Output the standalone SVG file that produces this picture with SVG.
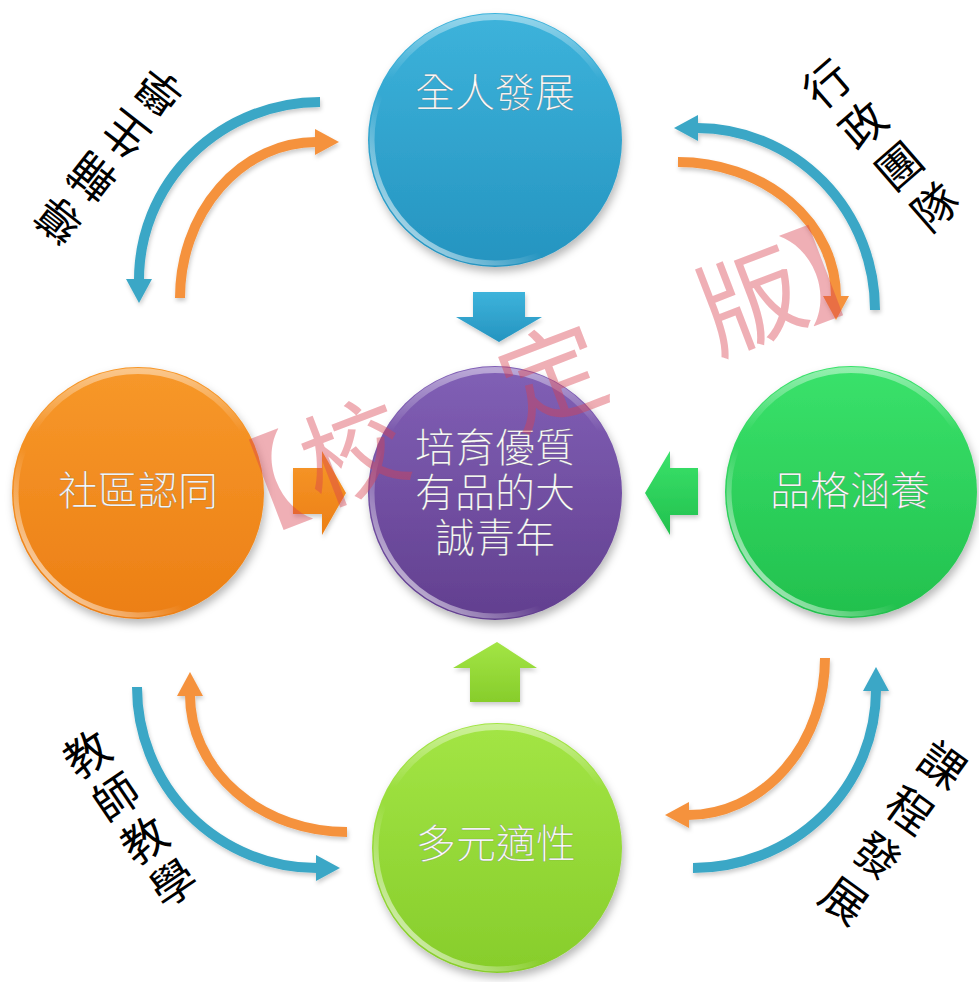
<svg xmlns="http://www.w3.org/2000/svg" width="979" height="982" viewBox="0 0 979 982">
<style>
.ctext{font-family:"Noto Sans CJK TC","Noto Sans CJK SC",sans-serif;font-size:40px;font-weight:300;fill:#ffffff;stroke:#4a4a4a;stroke-opacity:.35;stroke-width:.7px;text-anchor:middle}
.lbl{font-family:"Noto Sans CJK TC","Noto Sans CJK SC",sans-serif;font-size:45px;font-weight:400;fill:#000000}
.wm{font-family:"Noto Sans CJK TC","Noto Sans CJK SC",sans-serif;font-size:104px;fill:#d9404f;fill-opacity:.42;text-anchor:middle}
.arcB{fill:none;stroke:#3aa7c6;stroke-width:10;marker-end:url(#hB)}
.arcO{fill:none;stroke:#f5923e;stroke-width:10;marker-end:url(#hO)}
.rim{fill:none;stroke:url(#rim);stroke-width:5}
.gloss{fill:none;stroke:url(#gloss);stroke-width:6}
</style>
<defs>
<filter id="sh" x="-20%" y="-20%" width="140%" height="140%">
<feDropShadow dx="2" dy="5" stdDeviation="4" flood-color="#000" flood-opacity=".28"/>
</filter>
<filter id="sh2" x="-20%" y="-20%" width="140%" height="140%">
<feDropShadow dx="1" dy="3" stdDeviation="2" flood-color="#000" flood-opacity=".2"/>
</filter>
<linearGradient id="gBlue" x1="0" y1="0" x2="0" y2="1"><stop offset="0" stop-color="#3db3db"/><stop offset="1" stop-color="#2594c0"/></linearGradient>
<linearGradient id="gOrange" x1="0" y1="0" x2="0" y2="1"><stop offset="0" stop-color="#f7982a"/><stop offset="1" stop-color="#ec7f15"/></linearGradient>
<linearGradient id="gGreen" x1="0" y1="0" x2="0" y2="1"><stop offset="0" stop-color="#3ae26b"/><stop offset="1" stop-color="#22c04d"/></linearGradient>
<linearGradient id="gLime" x1="0" y1="0" x2="0" y2="1"><stop offset="0" stop-color="#a3e545"/><stop offset="1" stop-color="#87cd2b"/></linearGradient>
<linearGradient id="gPurple" x1="0" y1="0" x2="0" y2="1"><stop offset="0" stop-color="#8160b6"/><stop offset="1" stop-color="#623f8f"/></linearGradient>
<linearGradient id="rim" x1="0" y1="1" x2="0.8" y2="0.2"><stop offset="0" stop-color="#fff" stop-opacity=".9"/><stop offset=".45" stop-color="#fff" stop-opacity="0"/></linearGradient>
<linearGradient id="gloss" x1="0" y1="0" x2="0" y2="1"><stop offset="0" stop-color="#fff" stop-opacity=".45"/><stop offset=".25" stop-color="#fff" stop-opacity="0"/></linearGradient>
<marker id="hB" markerUnits="userSpaceOnUse" markerWidth="30" markerHeight="30" refX="1" refY="0" orient="auto" viewBox="0 -15 30 30" overflow="visible"><path d="M0,-13 L24,0 L0,13 z" fill="#3aa7c6"/></marker>
<marker id="hO" markerUnits="userSpaceOnUse" markerWidth="30" markerHeight="30" refX="1" refY="0" orient="auto" viewBox="0 -15 30 30" overflow="visible"><path d="M0,-13 L24,0 L0,13 z" fill="#f5923e"/></marker>
</defs>
<rect width="979" height="982" fill="#ffffff"/>

<g id="connectors">
<g id="curved-arrows" filter="url(#sh2)">
<path class="arcB" d="M320,102 A181,178 0 0 0 139,280"/>
<path class="arcO" d="M180,298 A136,156 0 0 1 316,142"/>
<path class="arcB" d="M875,310 A178,182 0 0 0 697,128"/>
<path class="arcO" d="M678,162 A158,135 0 0 1 836,297"/>
<path class="arcB" d="M137,687 A180,181 0 0 0 317,868"/>
<path class="arcO" d="M347,832 A157,137 0 0 1 190,695"/>
<path class="arcO" d="M825,658 A137,157 0 0 1 688,815"/>
<path class="arcB" d="M693,868 A183,178 0 0 0 876,690"/>
</g>
<g id="block-arrows" filter="url(#sh2)">
<polygon points="473,292 525,292 525,317 542,317 499,342 456,317 473,317" fill="url(#gBlue)"/>
<polygon points="293,468 322,468 322,451 346,493 322,535 322,514 293,514" fill="url(#gOrange)"/>
<polygon points="698,468 670,468 670,451 645,493 670,535 670,515 698,515" fill="url(#gGreen)"/>
<polygon points="470,702 520,702 520,668 537,668 497,642 453,668 470,668" fill="url(#gLime)"/>
</g>
</g>

<g id="node-top">
<circle cx="495" cy="140" r="127" fill="url(#gBlue)" filter="url(#sh)"/>
<circle class="rim" cx="495" cy="140" r="123"/>
<circle class="gloss" cx="495" cy="140" r="123"/>
<text class="ctext" x="495" y="107">全人發展</text>
</g>
<g id="node-left">
<circle cx="138" cy="493" r="126" fill="url(#gOrange)" filter="url(#sh)"/>
<circle class="rim" cx="138" cy="493" r="122"/>
<circle class="gloss" cx="138" cy="493" r="122"/>
<text class="ctext" x="138" y="505">社區認同</text>
</g>
<g id="node-right">
<circle cx="851" cy="492" r="126" fill="url(#gGreen)" filter="url(#sh)"/>
<circle class="rim" cx="851" cy="492" r="122"/>
<circle class="gloss" cx="851" cy="492" r="122"/>
<text class="ctext" x="850" y="505">品格涵養</text>
</g>
<g id="node-bottom">
<circle cx="497" cy="848" r="125" fill="url(#gLime)" filter="url(#sh)"/>
<circle class="rim" cx="497" cy="848" r="121"/>
<circle class="gloss" cx="497" cy="848" r="121"/>
<text class="ctext" x="496" y="858">多元適性</text>
</g>
<g id="node-center">
<circle cx="495" cy="493" r="127" fill="url(#gPurple)" filter="url(#sh)"/>
<circle class="rim" cx="495" cy="493" r="123"/>
<circle class="gloss" cx="495" cy="493" r="123"/>
<text class="ctext"><tspan x="495" y="462">培育優質</tspan><tspan x="495" y="507">有品的大</tspan><tspan x="495" y="552">誠青年</tspan></text>
</g>

<g id="labels">
<text class="lbl" x="186.9 153.6 120.2 86.9" y="92.4 135.1 177.7 220.4" rotate="-142 -142 -142 -142">學生輔導</text>
<text class="lbl" x="821.1 857.1 893.1 929.1" y="111.3 152.3 193.3 234.3" rotate="-41 -41 -41 -41">行政團隊</text>
<text class="lbl" x="77.7 106.4 135.0 163.7" y="780.4 823.4 866.4 909.4" rotate="-34 -34 -34 -34">教師教學</text>
<text class="lbl" x="914.1 881.4 848.8 816.1" y="765.6 810.6 855.6 900.6" rotate="36 36 36 36">課程發展</text>
</g>

<g id="watermark">
<text class="wm" transform="translate(353,452) rotate(-21)" x="-110 0 213 426 524" y="39">【校定版】</text>
</g>
</svg>
